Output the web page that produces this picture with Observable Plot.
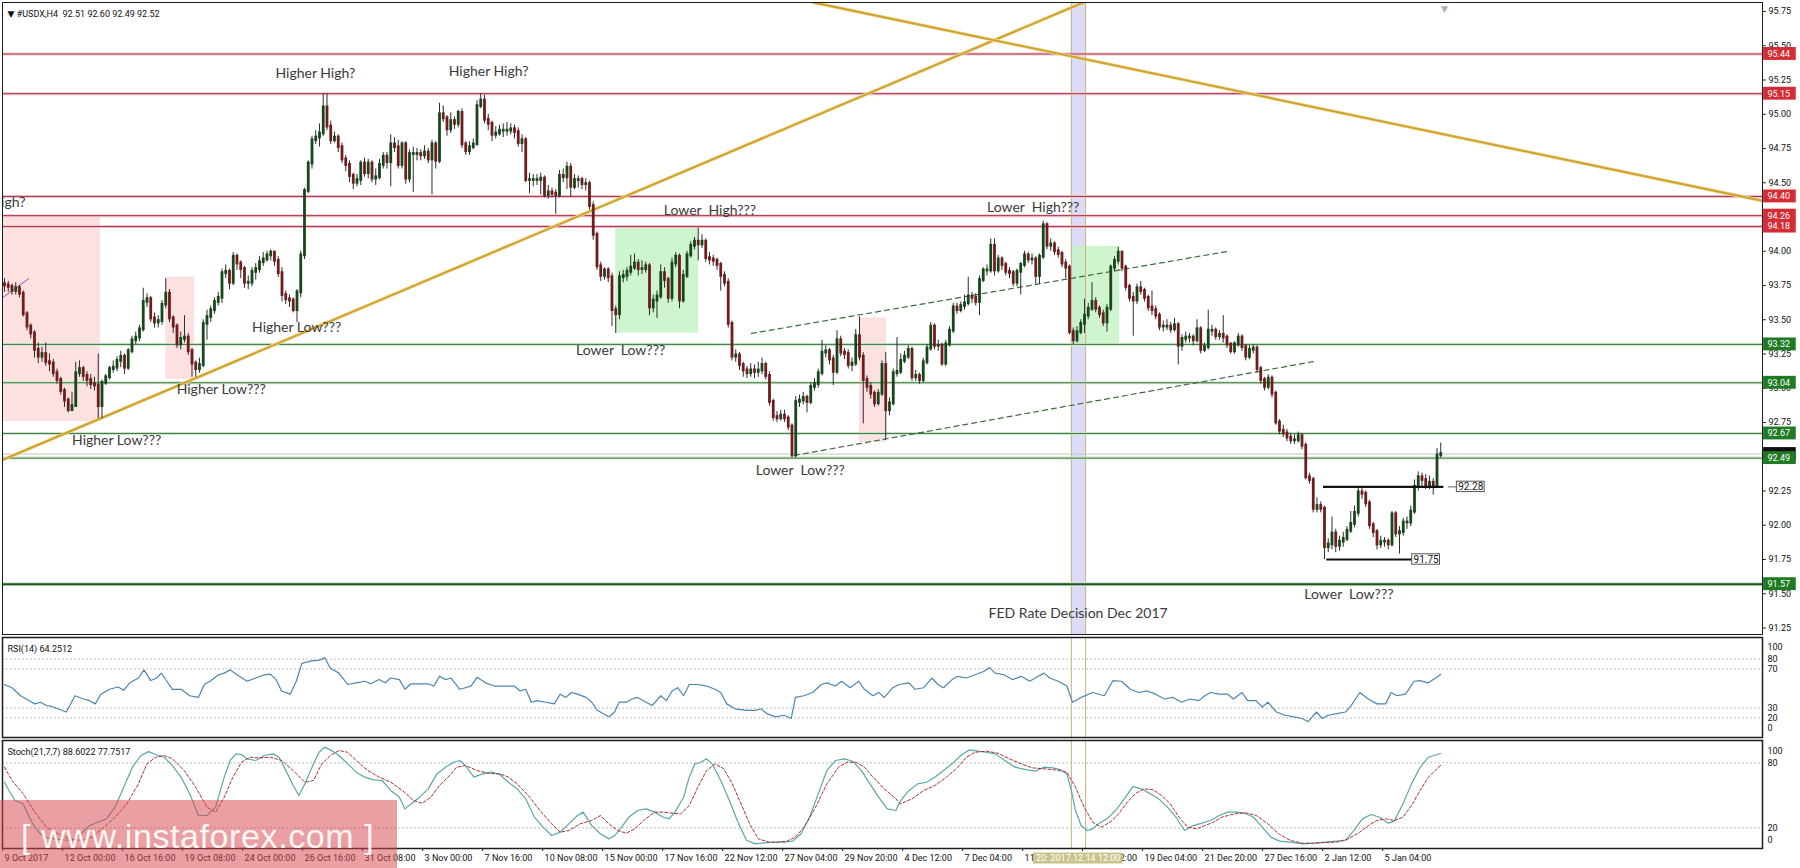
<!DOCTYPE html>
<html><head><meta charset="utf-8">
<script src="https://cdn.jsdelivr.net/npm/d3@7"></script>
<script src="https://cdn.jsdelivr.net/npm/@observablehq/plot@0.6"></script>
<style>
html,body{margin:0;padding:0;background:#fff;overflow:hidden;}
#wrap{position:relative;width:1800px;height:868px;overflow:hidden;background:#fff;}
#wrap svg{display:block;}
#wm{position:absolute;left:0;top:800px;width:397px;height:68px;background:rgba(214,72,76,0.52);
  font-family:"Liberation Sans",Arial,sans-serif;font-size:34px;line-height:72px;color:rgba(255,255,255,0.92);
  white-space:pre;padding-left:21px;box-sizing:border-box;letter-spacing:0.6px;}
</style></head><body><div id="wrap"></div>
<script>
// ---------- DATA ----------
const symbol = "#USDX,H4";
const firstOpen = 93.76;
const closes = [
93.75,93.74,93.71,93.73,93.69,93.54,93.45,93.40,93.28,93.23,
93.25,93.19,93.18,93.11,93.06,92.98,92.91,92.84,92.87,93.11,
93.14,93.09,93.06,93.03,93.02,92.87,93.04,93.08,93.14,93.15,
93.20,93.23,93.15,93.27,93.35,93.37,93.43,93.63,93.65,93.51,
93.48,93.49,93.61,93.69,93.51,93.45,93.32,93.36,93.37,93.27,
93.18,93.14,93.17,93.47,93.52,93.57,93.63,93.66,93.84,93.85,
93.77,93.96,93.91,93.87,93.77,93.77,93.85,93.87,93.92,93.94,
93.97,93.99,93.93,93.84,93.68,93.65,93.64,93.57,93.70,93.97,
94.44,94.64,94.81,94.83,94.86,95.05,94.91,94.81,94.83,94.76,
94.67,94.63,94.55,94.50,94.52,94.64,94.57,94.64,94.53,94.54,
94.63,94.69,94.65,94.78,94.76,94.63,94.78,94.53,94.71,94.71,
94.71,94.70,94.72,94.67,94.78,94.66,95.00,94.97,94.89,94.95,
94.93,95.01,94.78,94.73,94.76,94.78,95.06,95.10,94.96,94.93,
94.85,94.86,94.88,94.88,94.88,94.89,94.87,94.79,94.81,94.52,
94.52,94.52,94.52,94.53,94.41,94.43,94.42,94.41,94.55,94.54,
94.61,94.47,94.52,94.52,94.49,94.49,94.33,94.12,93.89,93.82,
93.86,93.81,93.57,93.54,93.81,93.82,93.85,93.88,93.91,93.87,
93.87,93.89,93.59,93.64,93.67,93.84,93.79,93.66,93.91,93.96,
93.64,93.82,93.97,94.04,94.07,94.05,94.07,93.95,93.94,93.93,
93.90,93.82,93.77,93.47,93.23,93.24,93.17,93.13,93.11,93.13,
93.12,93.13,93.17,93.09,92.90,92.79,92.78,92.80,92.78,92.72,
92.51,92.90,92.91,92.93,92.90,93.01,93.03,93.11,93.26,93.27,
93.21,93.12,93.35,93.26,93.25,93.17,93.18,93.38,93.23,93.06,
93.01,92.96,92.89,92.96,93.17,92.84,92.89,93.11,93.12,93.20,
93.23,93.28,93.08,93.09,93.06,93.19,93.29,93.45,93.31,93.31,
93.18,93.32,93.42,93.59,93.57,93.60,93.62,93.67,93.66,93.63,
93.79,93.86,93.86,94.04,93.86,93.94,93.90,93.85,93.84,93.77,
93.85,93.90,93.97,93.94,93.94,93.82,93.96,94.19,94.04,94.05,
94.00,93.98,93.91,93.88,93.41,93.35,93.41,93.47,93.53,93.58,
93.63,93.58,93.54,93.48,93.58,93.88,93.93,93.99,93.88,93.74,
93.66,93.64,93.73,93.71,93.66,93.59,93.57,93.53,93.45,93.45,
93.45,93.43,93.46,93.31,93.36,93.37,93.37,93.35,93.43,93.28,
93.30,93.42,93.42,93.38,93.39,93.37,93.32,93.27,93.32,93.37,
93.30,93.23,93.28,93.29,93.14,93.06,93.01,93.07,92.96,92.75,
92.69,92.67,92.64,92.62,92.62,92.65,92.58,92.35,92.33,92.12,
92.14,92.12,91.84,91.86,91.94,91.85,91.88,91.90,91.96,92.01,
92.09,92.24,92.23,92.16,92.00,91.95,91.86,91.88,91.88,91.86,
92.08,91.94,91.95,92.02,92.02,92.10,92.28,92.35,92.33,92.29,
92.31,92.29,92.51,92.52];
const highs = [
93.80,93.78,93.76,93.77,93.75,93.71,93.56,93.47,93.42,93.33,
93.30,93.33,93.25,93.21,93.14,93.08,93.00,92.93,92.97,93.19,
93.20,93.16,93.12,93.10,93.08,93.25,93.06,93.10,93.16,93.20,
93.23,93.27,93.25,93.29,93.38,93.41,93.46,93.73,93.69,93.67,
93.55,93.53,93.64,93.80,93.72,93.53,93.47,93.41,93.53,93.40,
93.29,93.20,93.22,93.50,93.57,93.60,93.66,93.70,93.87,93.90,
93.87,93.99,93.98,93.93,93.89,93.82,93.88,93.91,93.96,93.99,
94.00,94.01,94.00,93.96,93.88,93.71,93.68,93.66,93.72,94.00,
94.46,94.66,94.84,94.88,94.93,95.15,95.15,94.95,94.87,94.85,
94.79,94.70,94.66,94.57,94.56,94.66,94.68,94.67,94.66,94.60,
94.67,94.72,94.72,94.85,94.83,94.81,94.80,94.80,94.74,94.76,
94.75,94.74,94.77,94.75,94.81,94.80,95.08,95.06,94.99,95.01,
94.98,95.03,95.04,94.80,94.80,94.82,95.10,95.15,95.14,95.00,
94.95,94.91,94.92,94.93,94.94,94.93,94.92,94.90,94.85,94.83,
94.57,94.56,94.56,94.57,94.55,94.48,94.46,94.45,94.59,94.60,
94.65,94.64,94.56,94.55,94.54,94.53,94.51,94.36,94.14,93.92,
93.88,93.88,93.84,93.60,93.85,93.86,93.88,93.97,93.98,93.94,
93.93,93.92,93.91,93.68,93.71,93.90,93.88,93.81,93.95,93.99,
93.98,93.86,94.00,94.07,94.10,94.17,94.12,94.09,93.99,93.97,
93.95,93.92,93.85,93.80,93.49,93.28,93.26,93.19,93.16,93.18,
93.17,93.19,93.22,93.19,93.12,92.92,92.83,92.84,92.84,92.80,
92.74,92.94,92.95,92.97,92.95,93.04,93.07,93.14,93.35,93.31,
93.29,93.24,93.42,93.38,93.29,93.28,93.22,93.43,93.52,93.26,
93.09,93.04,92.98,92.99,93.20,93.26,92.93,93.14,93.37,93.25,
93.27,93.31,93.30,93.13,93.11,93.22,93.32,93.48,93.47,93.35,
93.33,93.35,93.45,93.62,93.62,93.63,93.68,93.81,93.70,93.69,
93.82,93.88,93.90,94.09,94.09,93.97,93.96,93.92,93.88,93.86,
93.87,93.92,94.00,93.99,93.98,93.96,93.98,94.22,94.21,94.09,
94.07,94.03,94.00,93.94,93.90,93.44,93.45,93.50,93.65,93.62,
93.77,93.66,93.60,93.57,93.61,93.90,93.96,94.03,94.00,93.90,
93.76,93.70,93.76,93.78,93.73,93.68,93.71,93.60,93.55,93.49,
93.50,93.48,93.51,93.48,93.39,93.41,93.40,93.39,93.50,93.45,
93.33,93.57,93.46,93.44,93.42,93.53,93.39,93.33,93.34,93.40,
93.39,93.32,93.31,93.32,93.31,93.16,93.08,93.10,93.09,92.98,
92.77,92.73,92.70,92.67,92.66,92.68,92.67,92.60,92.38,92.35,
92.20,92.17,92.14,91.90,92.06,91.97,91.92,91.95,91.99,92.10,
92.14,92.27,92.27,92.25,92.18,92.02,91.97,91.92,91.91,91.90,
92.10,92.10,91.99,92.05,92.06,92.14,92.33,92.39,92.38,92.37,
92.36,92.34,92.56,92.60];
const lows = [
93.70,93.70,93.68,93.68,93.66,93.52,93.42,93.36,93.22,93.18,
93.19,93.16,93.12,93.08,93.03,92.95,92.86,92.82,92.83,92.86,
93.08,93.05,93.01,92.99,92.98,92.78,92.78,93.02,93.06,93.11,
93.12,93.15,93.10,93.13,93.25,93.32,93.34,93.41,93.59,93.48,
93.44,93.44,93.46,93.58,93.48,93.40,93.29,93.28,93.33,93.24,
93.08,93.08,93.11,93.15,93.35,93.48,93.54,93.60,93.62,93.80,
93.72,93.75,93.86,93.80,93.73,93.72,93.74,93.79,93.84,93.89,
93.92,93.93,93.89,93.81,93.63,93.61,93.59,93.55,93.48,93.66,
93.94,94.42,94.60,94.78,94.76,94.84,94.88,94.78,94.79,94.72,
94.64,94.58,94.50,94.45,94.47,94.48,94.54,94.53,94.50,94.48,
94.52,94.60,94.60,94.47,94.72,94.60,94.60,94.49,94.50,94.43,
94.66,94.66,94.67,94.64,94.41,94.60,94.64,94.94,94.84,94.86,
94.89,94.90,94.75,94.70,94.70,94.74,94.77,95.04,94.93,94.88,
94.80,94.82,94.84,94.83,94.84,94.85,94.82,94.76,94.72,94.50,
94.42,94.47,94.48,94.41,94.39,94.38,94.39,94.27,94.39,94.50,
94.45,94.40,94.45,94.46,94.45,94.44,94.30,94.08,93.86,93.78,
93.79,93.77,93.45,93.40,93.50,93.77,93.78,93.82,93.86,93.82,
93.83,93.84,93.53,93.55,93.51,93.65,93.73,93.62,93.63,93.88,
93.58,93.62,93.80,93.95,94.01,93.93,94.02,93.92,93.90,93.89,
93.86,93.71,93.74,93.44,93.20,93.19,93.13,93.08,93.07,93.08,
93.07,93.08,93.10,93.06,92.87,92.76,92.75,92.76,92.75,92.69,
92.49,92.49,92.86,92.88,92.82,92.88,92.98,93.00,93.09,93.22,
93.17,93.02,93.10,93.23,93.21,93.14,93.12,93.16,93.20,92.74,
92.97,92.92,92.86,92.87,92.94,92.62,92.80,92.87,93.08,93.10,
93.18,93.21,93.05,93.05,93.03,93.04,93.17,93.27,93.28,93.27,
93.16,93.16,93.30,93.40,93.54,93.55,93.57,93.60,93.62,93.60,
93.53,93.77,93.82,93.84,93.82,93.84,93.86,93.82,93.80,93.74,
93.74,93.68,93.88,93.91,93.90,93.76,93.76,93.94,94.01,94.00,
93.97,93.95,93.88,93.80,93.39,93.32,93.33,93.39,93.40,93.50,
93.56,93.55,93.51,93.45,93.41,93.56,93.85,93.90,93.85,93.71,
93.63,93.38,93.61,93.68,93.63,93.56,93.53,93.50,93.42,93.41,
93.42,93.40,93.41,93.17,93.27,93.33,93.33,93.31,93.33,93.25,
93.26,93.28,93.38,93.35,93.35,93.33,93.29,93.25,93.25,93.30,
93.27,93.20,93.21,93.25,93.11,93.03,92.98,92.99,92.93,92.73,
92.66,92.64,92.61,92.59,92.59,92.60,92.55,92.33,92.30,92.09,
92.09,92.09,91.75,91.80,91.82,91.80,91.81,91.84,91.88,91.94,
91.98,92.06,92.19,92.13,91.97,91.91,91.82,91.83,91.84,91.82,
91.84,91.91,91.79,91.92,91.97,91.99,92.08,92.25,92.28,92.26,
92.26,92.22,92.27,92.49];

const timeLabels = ["9 Oct 2017","12 Oct 00:00","16 Oct 16:00","19 Oct 08:00","24 Oct 00:00","26 Oct 16:00",
 "31 Oct 08:00","3 Nov 00:00","7 Nov 16:00","10 Nov 08:00","15 Nov 00:00","17 Nov 16:00","22 Nov 12:00",
 "27 Nov 04:00","29 Nov 20:00","4 Dec 12:00","7 Dec 04:00","11 Dec 20:00","14 Dec 12:00","19 Dec 04:00",
 "21 Dec 20:00","27 Dec 16:00","2 Jan 12:00","5 Jan 04:00"];
const barsPerLabel = 16;
const priceTicks = [95.75,95.50,95.25,95.00,94.75,94.50,94.25,94.00,93.75,93.50,93.25,93.00,92.75,92.50,92.25,92.00,91.75,91.50,91.25];
const resistanceLevels = [95.44, 95.15, 94.40, 94.26, 94.18];
const supportLevels = [93.32, 93.04, 92.67, 92.49];
const baseLevels = [91.57];
const lastPrice = 92.52;

const pinkZones = [
  {from: -0.53, to: 25.6, low: 92.757, high: 94.26},
  {from: 43.0, to: 50.7, low: 93.064, high: 93.81},
  {from: 228.0, to: 235.2, low: 92.606, high: 93.514}];
const greenZones = [
  {from: 163.0, to: 185.1, low: 93.402, high: 94.171},
  {from: 284.7, to: 297.4, low: 93.324, high: 94.035}];
const fedBand = [{from: 284.5, to: 288.3}];
const crosshair = [{bar: 286.3, label: "20: 2017.12.14 12:00"}];

const risingTrend = [[-0.27, 92.48], [287.7, 95.816]];
const fallingTrend = [[215.7, 95.816], [468.4, 94.37]];
const channelUpper = [[199.2, 93.40], [326.4, 94.00]];
const channelLower = [[210.7, 92.51], [349.9, 93.199]];
const purpleStroke = [[-0.27, 93.665], [6.4, 93.799]];
const markedLevels = [
  {price: 92.28, from: 351.6, to: 383.7, box: 387.3},
  {price: 91.75, from: 352.5, to: 375.4, box: 375.4}];

const notes = [
  {text: "Higher High?", bar: 82.9, price: 95.30},
  {text: "Higher High?", bar: 129.1, price: 95.312},
  {text: "Lower  High???", bar: 188.1, price: 94.297},
  {text: "Lower  High???", bar: 274.3, price: 94.321},
  {text: "Higher Low???", bar: 77.9, price: 93.446},
  {text: "Higher Low???", bar: 57.8, price: 92.989},
  {text: "Higher Low???", bar: 29.9, price: 92.619},
  {text: "Lower  Low???", bar: 164.3, price: 93.276},
  {text: "Lower  Low???", bar: 212.2, price: 92.40},
  {text: "Lower  Low???", bar: 358.5, price: 91.494},
  {text: "FED Rate Decision Dec 2017", bar: 286.3, price: 91.358}];
const clippedNotes = [{text: "Higher High?", bar: 5.6, price: 94.358}];

const rsiTitle = "RSI(14) 64.2512";
const rsiLevels = [80, 70, 30, 20];
const rsi = [[0,54.1],[2.0,50.8],[4.3,42.6],[6.6,37.6],[8.1,34.3],[9.6,36.0],[11.2,32.6],[12.7,31.6],[14.2,29.3],[16.5,26.0],[18.8,42.6],[21.1,39.3],[22.7,37.6],[24.2,34.3],[25.7,44.2],[28.0,49.2],[30.3,51.5],[31.8,48.2],[33.4,55.8],[35.7,60.7],[37.2,69.0],[39.0,58.1],[40.6,60.7],[41.8,65.7],[43.3,57.4],[44.8,49.2],[47.1,49.2],[49.4,42.6],[51.7,40.9],[53.3,54.1],[54.8,57.4],[57.1,64.0],[58.6,65.7],[60.2,69.0],[62.0,64.0],[64.7,57.4],[67.0,60.7],[69.3,64.0],[70.9,64.7],[72.4,59.1],[73.9,47.5],[76.2,44.2],[77.8,57.4],[79.3,75.6],[81.6,77.9],[83.9,78.9],[85.4,81.3],[86.9,70.7],[89.2,65.7],[91.5,54.1],[93.8,55.8],[96.1,57.4],[97.7,54.8],[99.9,59.1],[101.5,55.8],[103.0,60.7],[105.3,59.1],[106.8,49.2],[108.4,54.8],[110.7,54.8],[113.0,54.8],[114.5,52.5],[116.0,62.4],[117.6,59.1],[119.1,60.7],[121.4,49.2],[122.9,50.8],[124.4,52.5],[126.0,61.4],[128.3,55.8],[130.6,52.5],[133.6,52.5],[135.9,52.5],[137.5,47.5],[139.0,49.2],[140.5,36.0],[142.0,37.6],[144.3,36.0],[146.6,34.3],[148.2,44.2],[149.7,40.9],[151.2,45.9],[152.8,44.2],[155.1,40.9],[156.6,36.0],[158.1,27.7],[159.6,24.4],[161.2,21.1],[162.7,26.0],[163.9,36.0],[165.8,36.0],[167.3,39.3],[168.8,40.9],[171.1,36.0],[172.7,32.6],[175.0,42.6],[176.5,37.6],[178.0,47.5],[179.5,50.8],[181.1,42.6],[182.6,54.1],[184.9,54.1],[187.2,52.5],[189.5,49.2],[191.0,45.9],[192.6,34.3],[194.8,29.3],[197.9,27.7],[200.2,27.7],[201.7,29.3],[203.3,24.4],[205.6,21.1],[207.9,22.7],[209.8,19.4],[210.9,40.9],[213.2,42.6],[215.5,45.9],[217.8,54.1],[219.3,55.8],[221.6,52.5],[223.2,57.4],[225.5,50.8],[227.8,57.4],[229.3,49.2],[231.6,42.6],[233.1,45.9],[234.6,40.9],[236.9,50.8],[238.5,54.1],[241.2,55.8],[242.8,49.2],[245.1,50.8],[247.3,60.7],[248.9,54.1],[250.4,50.8],[252.7,59.1],[254.2,62.4],[256.5,60.7],[258.8,64.0],[261.1,67.3],[262.7,71.3],[264.2,65.7],[266.5,64.0],[268.8,59.1],[271.1,62.4],[273.4,57.4],[274.9,60.7],[277.2,65.7],[278.7,60.7],[281.0,57.4],[283.3,52.5],[284.8,36.0],[287.1,40.9],[290.2,45.9],[293.3,42.6],[295.6,58.1],[297.9,57.4],[300.2,49.2],[302.5,45.9],[304.7,47.5],[307.0,44.2],[309.3,39.3],[311.6,40.9],[313.9,36.0],[316.2,39.3],[318.5,37.6],[320.1,42.6],[321.6,45.9],[323.9,44.2],[326.2,44.2],[327.7,39.3],[330.0,45.9],[331.5,37.6],[333.8,37.6],[335.4,31.0],[336.9,36.0],[339.2,26.0],[341.5,22.7],[343.8,21.1],[346.1,19.4],[347.6,16.1],[349.9,26.0],[351.4,19.4],[353.0,22.7],[355.3,24.4],[357.6,26.0],[359.1,32.6],[361.4,45.9],[363.7,39.3],[366.0,34.3],[368.3,34.3],[369.8,45.9],[371.3,42.6],[373.6,44.2],[375.9,57.4],[377.4,58.1],[379.7,55.8],[383,64.25]];

const stochTitle = "Stoch(21,7,7) 88.6022 77.7517";
const stochLevels = [80, 20];
const stochK = [[0,62.1],[1.2,54.5],[2.8,45.2],[5.0,42.1],[6.6,29.8],[8.1,20.6],[9.6,14.5],[11.2,10.8],[13.5,9.8],[15.8,8.9],[18.1,8.3],[20.4,14.5],[22.7,22.1],[24.9,25.2],[27.2,28.3],[29.5,39.1],[31.8,57.5],[34.1,76.0],[36.4,86.8],[38.4,90.4],[40.3,87.7],[42.6,85.2],[44.8,77.5],[47.1,66.8],[49.4,51.4],[51.7,31.4],[54.0,31.4],[56.3,39.1],[58.6,66.8],[60.2,82.2],[61.7,88.3],[63.2,87.7],[64.7,83.7],[67.0,82.2],[69.3,86.8],[71.6,88.3],[73.2,85.2],[75.5,69.8],[77.0,59.1],[78.5,49.8],[80.1,60.6],[82.4,79.1],[83.9,89.8],[85.4,94.5],[86.9,92.0],[89.2,86.8],[91.5,79.1],[93.8,71.4],[96.1,66.8],[98.4,64.3],[100.7,63.7],[103.0,54.5],[105.3,48.3],[106.8,37.5],[108.4,42.1],[110.7,48.3],[113.0,56.0],[115.3,69.8],[117.6,76.0],[119.8,80.6],[121.4,82.2],[122.9,77.5],[125.2,66.8],[127.5,69.8],[129.8,71.4],[132.1,69.2],[134.4,62.1],[136.7,56.0],[139.0,46.8],[141.3,29.8],[143.6,20.6],[145.9,12.9],[148.2,16.0],[150.5,23.7],[152.8,31.4],[154.3,34.5],[156.6,22.1],[158.9,14.5],[161.2,9.8],[162.7,12.9],[164.2,19.1],[166.5,29.8],[168.8,36.0],[171.1,37.5],[173.4,34.5],[175.7,29.8],[177.2,28.3],[178.8,34.5],[181.1,48.3],[182.6,66.8],[184.1,79.1],[185.7,80.6],[187.2,83.7],[188.7,79.1],[191.0,63.7],[193.3,45.2],[195.6,25.2],[197.9,8.3],[200.2,5.2],[203.3,6.4],[205.6,6.8],[207.9,6.8],[210.2,7.7],[212.4,14.5],[214.7,29.8],[217.0,51.4],[219.3,72.9],[221.6,82.2],[223.9,83.7],[226.2,81.5],[228.5,72.9],[230.8,60.6],[233.1,48.3],[235.4,37.5],[237.7,36.0],[238.9,44.6],[241.2,54.5],[243.5,60.6],[245.8,62.1],[248.1,66.8],[250.4,72.9],[252.7,79.1],[255.0,86.8],[257.3,92.0],[259.6,90.8],[261.9,89.8],[264.2,88.3],[266.5,82.8],[269.5,76.0],[272.6,73.5],[274.9,72.3],[277.2,76.0],[279.5,75.4],[281.8,73.5],[283.3,69.8],[284.5,54.5],[285.6,36.0],[287.1,22.1],[288.7,17.5],[290.2,19.1],[291.7,23.7],[294.0,28.3],[296.3,36.0],[298.6,46.8],[300.9,58.1],[303.2,56.0],[305.5,51.4],[307.8,46.8],[310.1,39.1],[312.4,29.8],[314.7,17.5],[317.0,22.1],[319.3,24.3],[321.6,26.8],[323.9,31.4],[326.2,34.5],[328.5,34.5],[330.8,33.5],[333.1,29.8],[335.4,20.6],[337.7,11.4],[340.0,7.7],[343.0,6.8],[346.1,5.2],[349.1,5.8],[352.2,6.8],[355.3,7.7],[357.6,8.3],[359.8,17.5],[362.1,28.3],[364.4,32.3],[366.7,29.8],[369.0,24.3],[370.6,26.2],[372.9,42.1],[375.2,60.6],[377.5,76.0],[379.7,85.2],[383,88.6]];
const stochD = [[0,76.0],[2.0,63.7],[5.0,51.4],[8.1,34.5],[11.2,20.6],[14.2,14.5],[17.3,9.8],[20.4,8.3],[23.4,11.4],[26.5,20.6],[29.5,29.8],[32.6,42.1],[35.7,60.6],[38.0,79.1],[40.3,85.2],[42.6,86.8],[44.8,83.7],[47.9,72.9],[51.0,57.5],[54.0,39.1],[56.3,34.5],[58.6,48.3],[60.9,66.8],[63.2,80.6],[65.5,85.2],[67.8,84.6],[70.9,85.2],[73.9,82.2],[77.0,72.9],[80.1,62.1],[82.4,63.7],[84.6,79.1],[86.9,86.8],[89.2,91.4],[91.5,89.8],[93.8,82.2],[96.9,72.9],[99.9,66.8],[103.0,62.1],[106.1,54.5],[109.1,45.2],[111.4,42.8],[113.7,48.3],[116.0,59.1],[118.3,66.8],[120.6,76.0],[122.9,77.5],[126.0,72.9],[129.0,70.4],[132.1,69.8],[134.4,66.8],[136.7,60.6],[139.7,49.8],[142.8,36.0],[145.9,23.7],[148.2,16.0],[150.5,17.5],[153.5,23.7],[156.6,26.8],[158.9,31.4],[161.2,23.7],[163.5,17.5],[165.8,15.1],[168.1,19.1],[170.4,26.8],[173.4,34.5],[175.7,34.5],[178.0,33.5],[180.3,32.9],[182.6,40.6],[184.9,57.5],[187.2,72.9],[189.5,79.1],[191.8,74.5],[194.1,60.6],[196.4,42.1],[198.7,23.7],[201.0,9.8],[204.0,6.8],[206.3,6.8],[208.6,7.7],[210.9,11.4],[213.2,20.6],[216.3,39.1],[219.3,60.6],[222.4,76.0],[224.7,80.6],[227.0,80.6],[229.3,76.0],[231.6,66.8],[234.6,56.0],[237.7,46.8],[238.9,42.1],[242.0,46.8],[245.1,54.5],[248.1,59.1],[251.2,66.8],[254.2,76.0],[256.5,85.2],[258.8,89.8],[261.9,90.8],[264.9,88.9],[268.0,83.7],[271.1,79.1],[274.1,75.4],[277.2,74.5],[280.3,73.5],[283.3,71.4],[285.6,57.5],[287.9,39.1],[290.2,25.2],[292.5,20.6],[294.8,25.2],[297.1,32.9],[299.4,43.7],[301.7,52.0],[304.0,56.0],[306.3,55.1],[308.6,49.8],[310.9,42.1],[313.2,29.8],[315.5,20.6],[317.8,19.1],[320.1,22.1],[322.4,25.2],[324.6,29.8],[326.9,32.0],[329.2,33.5],[331.5,33.5],[333.8,31.4],[336.9,23.7],[340.0,13.8],[343.0,8.3],[346.1,5.8],[349.1,5.8],[352.2,6.4],[355.3,6.8],[358.3,9.8],[361.4,16.0],[363.7,22.1],[366.0,26.8],[368.3,28.3],[370.6,26.8],[372.9,29.8],[375.2,40.6],[377.5,54.5],[379.7,66.8],[383,77.75]];

// ---------- BUILD ----------
if (highs.length !== closes.length || lows.length !== closes.length) throw new Error("length mismatch");
const bars = closes.map((c, i) => ({i, o: i === 0 ? firstOpen : closes[i - 1], c, h: highs[i], l: lows[i]}));
const bull = bars.filter(d => d.c >= d.o), bear = bars.filter(d => d.c < d.o);
const last = bars[bars.length - 1];

const W = 1800, ML = 2, MR = 38;
const xDomain = [-0.53, 468.8];
const xEnd = xDomain[1];
const ticksX = timeLabels.map((t, k) => ({t, x: k * barsPerLabel - 0.5}));
const FONT = "Roboto, 'DejaVu Sans', sans-serif";
const NOTEFONT = "Lato, 'Open Sans', sans-serif";
const BULL = "#17461a", BEAR = "#6e1c1c", WICK = "#2e2e2e";
const RED = "#a3354a", REDHALO = "#f3c3cb", GRN = "#3d7a3d", GRNHALO = "#cfe6cf";
const GOLD = "#cfa12e", TAN = "#c8b27a";
const boxW = 9.0, boxH = 0.047;
const pair = a => a.map(([x, y]) => ({x, y}));

const wrap = document.getElementById("wrap");
function place(node, top) {
  const d = document.createElement("div");
  d.style.cssText = `position:absolute;left:0;top:${top}px;width:${W}px;`;
  d.appendChild(node);
  wrap.appendChild(d);
}
const baseStyle = {fontFamily: FONT, fontSize: "9px", background: "transparent", overflow: "visible", whiteSpace: "pre"};

// ---- main price panel ----
const yMain = [91.2026, 95.8157];
const main = Plot.plot({
  width: W, height: 636, marginLeft: ML, marginRight: MR, marginTop: 2, marginBottom: 2,
  x: {domain: xDomain, axis: null}, y: {domain: yMain, axis: null},
  style: baseStyle,
  marks: [
    Plot.rect(fedBand, {x1: "from", x2: "to", y1: yMain[0], y2: yMain[1], fill: "#dcdcf7"}),
    Plot.rect(pinkZones, {x1: "from", x2: "to", y1: "low", y2: "high", fill: "#fde0e0"}),
    Plot.rect(greenZones, {x1: "from", x2: "to", y1: "low", y2: "high", fill: "#c6f3c6", fillOpacity: 0.85}),
    Plot.ruleX(fedBand.flatMap(d => [d.from, d.to]), {stroke: TAN, strokeWidth: 1}),
    Plot.ruleY(resistanceLevels, {stroke: REDHALO, strokeWidth: 3}),
    Plot.ruleY(resistanceLevels, {stroke: RED, strokeWidth: 1}),
    Plot.ruleY(supportLevels, {stroke: GRNHALO, strokeWidth: 3}),
    Plot.ruleY(supportLevels, {stroke: GRN, strokeWidth: 1}),
    Plot.ruleY(baseLevels, {stroke: GRNHALO, strokeWidth: 4}),
    Plot.ruleY(baseLevels, {stroke: "#1d551d", strokeWidth: 2}),
    Plot.ruleY([lastPrice], {stroke: "#c4c4c4", strokeWidth: 1}),
    Plot.line(pair(risingTrend), {x: "x", y: "y", stroke: "#f1dc9a", strokeWidth: 3.5, clip: true}),
    Plot.line(pair(risingTrend), {x: "x", y: "y", stroke: GOLD, strokeWidth: 2, clip: true}),
    Plot.line(pair(fallingTrend), {x: "x", y: "y", stroke: "#f1dc9a", strokeWidth: 3.5, clip: true}),
    Plot.line(pair(fallingTrend), {x: "x", y: "y", stroke: GOLD, strokeWidth: 2, clip: true}),
    Plot.line(pair(channelUpper), {x: "x", y: "y", stroke: "#3f6a3f", strokeWidth: 1.2, strokeDasharray: "5,4"}),
    Plot.line(pair(channelLower), {x: "x", y: "y", stroke: "#3f6a3f", strokeWidth: 1.2, strokeDasharray: "5,4"}),
    Plot.line(pair(purpleStroke), {x: "x", y: "y", stroke: "#8a4fb8", strokeWidth: 1, clip: true}),
    // candles
    Plot.ruleX(bars, {x: "i", y1: "l", y2: "h", stroke: WICK, strokeWidth: 1}),
    Plot.ruleX(bull, {x: "i", y1: "o", y2: "c", stroke: BULL, strokeWidth: 2.8, strokeLinecap: "square"}),
    Plot.ruleX(bear, {x: "i", y1: "o", y2: "c", stroke: BEAR, strokeWidth: 2.8, strokeLinecap: "square"}),
    // marked levels
    Plot.link(markedLevels, {x1: "from", x2: "to", y1: "price", y2: "price", stroke: "#111", strokeWidth: 2.2}),
    Plot.link(markedLevels.filter(d => d.box > d.to), {x1: d => d.to + 1.2, x2: "box", y1: "price", y2: "price", stroke: "#666", strokeWidth: 1}),
    Plot.rect(markedLevels, {x1: "box", x2: d => d.box + 7.4, y1: d => d.price - 0.038, y2: d => d.price + 0.038, fill: "white", stroke: "#555", strokeWidth: 1}),
    Plot.text(markedLevels, {x: d => d.box + 3.7, y: "price", text: d => d.price.toFixed(2), fill: "#111", fontSize: 10}),
    // annotations
    Plot.text(notes, {x: "bar", y: "price", text: "text", fill: "#3a3a3a", fontSize: 14, fontFamily: NOTEFONT}),
    Plot.text(clippedNotes, {x: "bar", y: "price", text: "text", fill: "#3a3a3a", fontSize: 14, fontFamily: NOTEFONT, textAnchor: "end", clip: true}),
    // header
    Plot.text([`\u25BC ${symbol}  ${last.o.toFixed(2)} ${last.h.toFixed(2)} ${last.l.toFixed(2)} ${last.c.toFixed(2)}`],
      {frameAnchor: "top-left", dx: 5, dy: 8, fill: "#111", fontSize: 9}),
    Plot.text(["\u25BC"], {x: 384, frameAnchor: "top", dy: 3, fill: "#b0b0b0", fontSize: 9}),
    // price axis
    Plot.link(priceTicks, {x1: xEnd, x2: xEnd + 0.9, y1: d => d, y2: d => d, stroke: "#222"}),
    Plot.text(priceTicks, {x: xEnd, y: d => d, text: d => d.toFixed(2), dx: 6, textAnchor: "start", fill: "#111", fontSize: 9}),
    Plot.rect([lastPrice], {x1: xEnd + 0.3, x2: xEnd + boxW, y1: d => d - boxH, y2: d => d + boxH, fill: "#111"}),
    Plot.rect(resistanceLevels, {x1: xEnd + 0.3, x2: xEnd + boxW, y1: d => d - boxH, y2: d => d + boxH, fill: "#d42b35"}),
    Plot.text(resistanceLevels, {x: xEnd, y: d => d, text: d => d.toFixed(2), dx: 5, textAnchor: "start", fill: "white", fontSize: 9}),
    Plot.rect(supportLevels.concat(baseLevels), {x1: xEnd + 0.3, x2: xEnd + boxW, y1: d => d - boxH, y2: d => d + boxH, fill: "#1f7a24"}),
    Plot.text(supportLevels.concat(baseLevels), {x: xEnd, y: d => d, text: d => d.toFixed(2), dx: 5, textAnchor: "start", fill: "white", fontSize: 9}),
    Plot.frame({stroke: "#1c1c1c"})
  ]
});
place(main, 0);

// ---- RSI panel ----
const rsiPlot = Plot.plot({
  width: W, height: 103, marginLeft: ML, marginRight: MR, marginTop: 2, marginBottom: 1,
  x: {domain: xDomain, axis: null}, y: {domain: [0, 102.04], axis: null},
  style: baseStyle,
  marks: [
    Plot.ruleY(rsiLevels, {stroke: "#bdbdbd", strokeDasharray: "2,2"}),
    Plot.ruleX(fedBand.flatMap(d => [d.from, d.to]), {stroke: TAN, strokeWidth: 1}),
    Plot.line(pair(rsi), {x: "x", y: "y", stroke: "#4d86ad", strokeWidth: 1.2}),
    Plot.text([rsiTitle], {frameAnchor: "top-left", dx: 5, dy: 8, fill: "#111", fontSize: 9}),
    Plot.text(rsiLevels, {x: xEnd, y: d => d, text: d => String(d), dx: 5, textAnchor: "start", fill: "#111", fontSize: 9}),
    Plot.text(["100"], {frameAnchor: "top-right", dx: 5, dy: 6, textAnchor: "start", fill: "#111", fontSize: 9}),
    Plot.text(["0"], {frameAnchor: "bottom-right", dx: 5, dy: -7, textAnchor: "start", fill: "#111", fontSize: 9}),
    Plot.frame({stroke: "#1c1c1c", strokeWidth: 1.5})
  ]
});
place(rsiPlot, 635);

// ---- Stochastic panel ----
const stochPlot = Plot.plot({
  width: W, height: 112, marginLeft: ML, marginRight: MR, marginTop: 2, marginBottom: 2,
  x: {domain: xDomain, axis: null}, y: {domain: [0.92, 100.65], axis: null},
  style: baseStyle,
  marks: [
    Plot.ruleY(stochLevels, {stroke: "#bdbdbd", strokeDasharray: "2,2"}),
    Plot.ruleX(fedBand.flatMap(d => [d.from, d.to]), {stroke: TAN, strokeWidth: 1}),
    Plot.line(pair(stochK), {x: "x", y: "y", stroke: "#5aa7a8", strokeWidth: 1.2}),
    Plot.line(pair(stochD), {x: "x", y: "y", stroke: "#a83232", strokeWidth: 1, strokeDasharray: "3,2"}),
    Plot.text([stochTitle], {frameAnchor: "top-left", dx: 5, dy: 8, fill: "#111", fontSize: 9}),
    Plot.text(stochLevels, {x: xEnd, y: d => d, text: d => String(d), dx: 5, textAnchor: "start", fill: "#111", fontSize: 9}),
    Plot.text(["100"], {frameAnchor: "top-right", dx: 5, dy: 7, textAnchor: "start", fill: "#111", fontSize: 9}),
    Plot.text(["0"], {frameAnchor: "bottom-right", dx: 5, dy: -6, textAnchor: "start", fill: "#111", fontSize: 9}),
    Plot.frame({stroke: "#1c1c1c", strokeWidth: 1.5})
  ]
});
place(stochPlot, 738);

// ---- time axis strip ----
const axisPlot = Plot.plot({
  width: W, height: 20, marginLeft: ML, marginRight: MR, marginTop: 0, marginBottom: 0,
  x: {domain: xDomain, axis: null}, y: {domain: [0, 20], range: [0, 20], axis: null},
  style: baseStyle,
  marks: [
    Plot.ruleX(ticksX, {x: "x", y1: 0, y2: 3, stroke: "#222"}),
    Plot.text(ticksX, {x: "x", y: 10, text: "t", dx: 2, textAnchor: "start", fill: "#111", fontSize: 9}),
    Plot.rect(crosshair, {x1: d => d.bar - 11.9, x2: d => d.bar + 11.9, y1: 4.5, y2: 15.5, fill: "#c9c38c"}),
    Plot.text(crosshair, {x: "bar", y: 10, text: "label", fill: "white", fontSize: 9})
  ]
});
place(axisPlot, 848);

// ---- watermark ----
const wm = document.createElement("div");
wm.id = "wm";
wm.textContent = "[ www.instaforex.com ]";
wrap.appendChild(wm);
</script></body></html>
